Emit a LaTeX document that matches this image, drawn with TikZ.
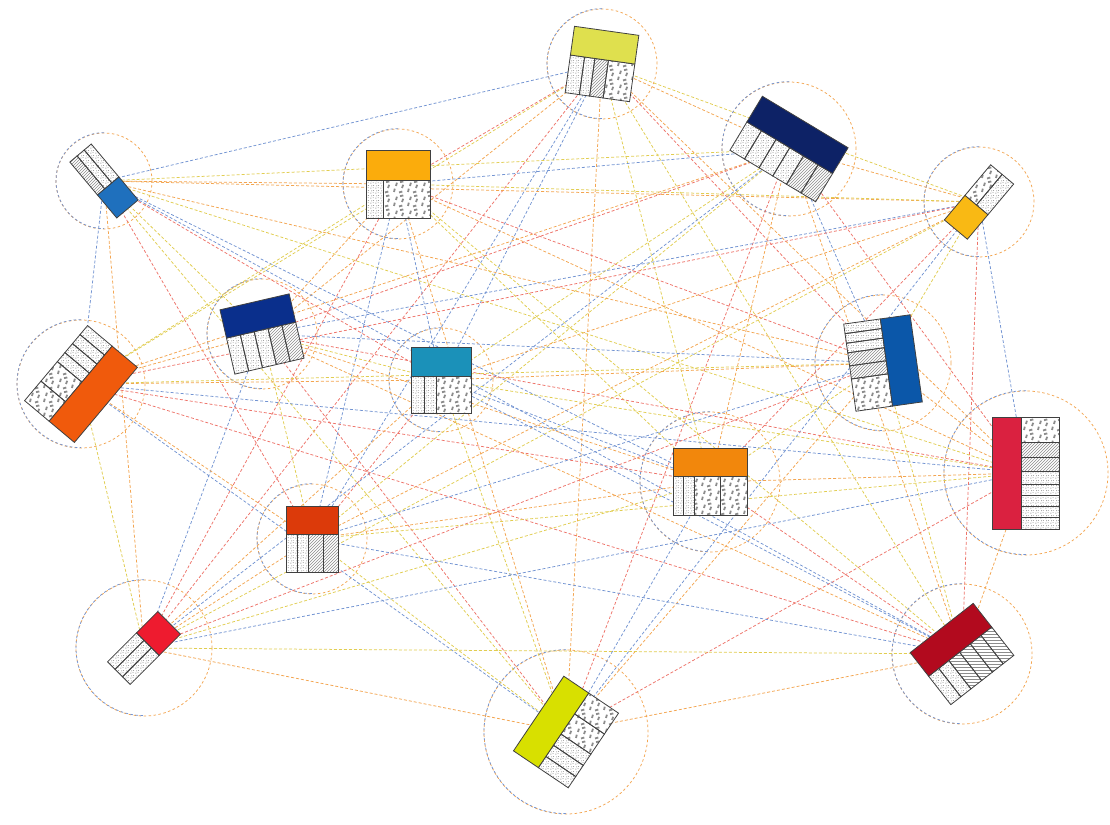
\documentclass[tikz,border=0pt]{standalone}
\usetikzlibrary{patterns}

% colours of the tiles
\definecolor{c1}{HTML}{DFE04E}
\definecolor{c2}{HTML}{0D2266}
\definecolor{c3}{HTML}{F9B914}
\definecolor{c4}{HTML}{1F70BD}
\definecolor{c5}{HTML}{FBAC0C}
\definecolor{c6}{HTML}{0A2F8C}
\definecolor{c7}{HTML}{F05A0C}
\definecolor{c8}{HTML}{1B91B9}
\definecolor{c9}{HTML}{0B57A9}
\definecolor{c10}{HTML}{DA2140}
\definecolor{c11}{HTML}{F2870C}
\definecolor{c12}{HTML}{DC3A0A}
\definecolor{c13}{HTML}{EE1B2F}
\definecolor{c14}{HTML}{D8E000}
\definecolor{c15}{HTML}{B20A1E}
% colours of the links
\definecolor{linkred}{RGB}{238,115,105}
\definecolor{linkorange}{RGB}{243,165,80}
\definecolor{linkyellow}{RGB}{225,205,80}
\definecolor{linkblue}{RGB}{115,148,210}

% fills of the cells
\pgfdeclarepatternformonly{stipple}{\pgfpointorigin}{\pgfpoint{5pt}{5pt}}{\pgfpoint{5pt}{5pt}}{
  \pgfpathcircle{\pgfpoint{1pt}{1pt}}{0.65pt}
  \pgfpathcircle{\pgfpoint{3.6pt}{1.6pt}}{0.55pt}
  \pgfpathcircle{\pgfpoint{2pt}{3.7pt}}{0.6pt}
  \pgfpathcircle{\pgfpoint{4.2pt}{4.1pt}}{0.5pt}
  \pgfusepath{fill}
}
\pgfdeclarepatternformonly{gravel}{\pgfpoint{-1pt}{-1pt}}{\pgfpoint{15pt}{15pt}}{\pgfpoint{14pt}{14pt}}{
  \pgfsetlinewidth{1.8pt}
  \pgfpathmoveto{\pgfpoint{2pt}{2pt}}\pgfpathlineto{\pgfpoint{2.8pt}{5.3pt}}
  \pgfpathmoveto{\pgfpoint{7pt}{1.5pt}}\pgfpathlineto{\pgfpoint{10.3pt}{2.5pt}}
  \pgfpathmoveto{\pgfpoint{4pt}{8pt}}\pgfpathlineto{\pgfpoint{4.9pt}{11.3pt}}
  \pgfpathmoveto{\pgfpoint{10pt}{6pt}}\pgfpathlineto{\pgfpoint{11.2pt}{9.2pt}}
  \pgfpathmoveto{\pgfpoint{8pt}{11.8pt}}\pgfpathlineto{\pgfpoint{11.3pt}{12.6pt}}
  \pgfusepath{stroke}
}

\tikzset{
  hub/.style={circle, draw=linkorange, dash pattern=on 2.5pt off 2.5pt, line width=0.75pt, inner sep=0pt},
  hubleft/.style={draw=linkblue, dash pattern=on 2.5pt off 2.5pt, line width=0.75pt},
  link/.style={dash pattern=on 3pt off 2pt, line width=0.75pt},
  tileframe/.style={draw=black!75, line width=0.8pt},
}

% circle round a tile
\newcommand{\hub}[3]{%
  \node[hub, minimum size=#3*2pt] (#1) at (#2) {};
  \draw[hubleft] (#1.north) arc[start angle=90, end angle=270, radius=#3pt];
}
% tile: name, rotation, width, height, colour height, colour, cells
\newcommand{\tile}[7]{%
  \begin{scope}[shift={(#1.center)}, rotate=#2]
    \fill[white] (-#3/2,-#4/2) rectangle (#3/2,#4/2);
    \foreach \u/\v/\p in {#7}
      \draw[tileframe, pattern=\p, pattern color=black!45]
        ({-#3/2+\u*#3},-#4/2) rectangle ({-#3/2+\v*#3},#4/2-#5);
    \draw[tileframe, fill=#6] (-#3/2,#4/2-#5) rectangle (#3/2,#4/2);
  \end{scope}
}

\begin{document}
\begin{tikzpicture}[x=1pt, y=1pt]
            \fill[white] (0,0) rectangle (1110,-824);
            \useasboundingbox (0,0) rectangle (1110,-824);
            % circles:
            \hub{n1}{602,-64}{55}
            \hub{n2}{789,-149}{67}
            \hub{n3}{979,-202}{55}
            \hub{n4}{104,-181}{48}
            \hub{n5}{398,-184}{55}
            \hub{n6}{262,-334}{55}
            \hub{n7}{81,-384}{64}
            \hub{n8}{441,-380}{52}
            \hub{n9}{883,-363}{68}
            \hub{n10}{1026,-473}{82}
            \hub{n11}{710,-482}{70}
            \hub{n12}{312,-539}{55}
            \hub{n13}{144,-648}{68}
            \hub{n14}{566,-732}{82}
            \hub{n15}{962,-654}{70}
            % links, every tile to every tile:
            \foreach \a in {1,...,14}{
                \pgfmathtruncatemacro\s{\a+1}
                \foreach \b in {\s,...,15}{
                    \pgfmathtruncatemacro\k{mod(3*\a+\b,4)}
                    \ifcase\k \def\lc{linkred}\or \def\lc{linkorange}\or
                        \def\lc{linkyellow}\or \def\lc{linkblue}\fi
                    \draw[link, \lc] (n\a.center) -- (n\b.center);
                }
            }
            % tiles:
            \tile{n1}{-8}{65}{67}{29}{c1}{0/0.22/stipple, 0.22/0.38/stipple, 0.38/0.59/north east lines, 0.59/1/gravel}
            \tile{n2}{-31}{100}{63}{30}{c2}{0/0.17/stipple, 0.17/0.34/stipple, 0.34/0.5/stipple, 0.5/0.66/stipple, 0.66/0.83/north east lines, 0.83/1/north east lines}
            \tile{n3}{140}{30}{72}{32}{c3}{0/0.5/stipple, 0.5/1/gravel}
            \tile{n4}{-140}{28}{73}{30}{c4}{0/0.33/stipple, 0.33/0.66/stipple, 0.66/1/north east lines}
            \tile{n5}{0}{64}{68}{30}{c5}{0/0.27/stipple, 0.27/1/gravel}
            \tile{n6}{13}{71}{66}{29}{c6}{0/0.2/stipple, 0.2/0.4/stipple, 0.4/0.6/stipple, 0.6/0.8/north east lines, 0.8/1/north east lines}
            \tile{n7}{-130}{98}{65}{33}{c7}{0/0.12/stipple, 0.12/0.24/stipple, 0.24/0.36/stipple, 0.36/0.48/stipple, 0.48/0.74/gravel, 0.74/1/gravel}
            \tile{n8}{0}{60}{66}{29}{c8}{0/0.22/stipple, 0.22/0.42/stipple, 0.42/1/gravel}
            \tile{n9}{-82}{88}{67}{30}{c9}{0/0.11/stipple, 0.11/0.22/stipple, 0.22/0.33/stipple, 0.33/0.48/north east lines, 0.48/0.63/north east lines, 0.63/1/gravel}
            \tile{n10}{90}{112}{67}{29}{c10}{0/0.1/stipple, 0.1/0.2/stipple, 0.2/0.3/stipple, 0.3/0.4/stipple, 0.4/0.51/stipple, 0.51/0.64/north east lines, 0.64/0.77/north east lines, 0.77/1/gravel}
            \tile{n11}{0}{74}{67}{28}{c11}{0/0.14/stipple, 0.14/0.29/stipple, 0.29/0.64/gravel, 0.64/1/gravel}
            \tile{n12}{0}{52}{66}{28}{c12}{0/0.22/stipple, 0.22/0.44/stipple, 0.44/0.72/north east lines, 0.72/1/north east lines}
            \tile{n13}{-45}{32}{71}{30}{c13}{0/0.33/stipple, 0.33/0.66/stipple, 0.66/1/stipple}
            \tile{n14}{56}{90}{66}{30}{c14}{0/0.15/stipple, 0.15/0.3/stipple, 0.3/0.45/stipple, 0.45/0.72/gravel, 0.72/1/gravel}
            \tile{n15}{38}{80}{66}{30}{c15}{0/0.16/stipple, 0.16/0.32/stipple, 0.32/0.49/horizontal lines, 0.49/0.66/horizontal lines, 0.66/0.83/horizontal lines, 0.83/1/horizontal lines}
\end{tikzpicture}
\end{document}
